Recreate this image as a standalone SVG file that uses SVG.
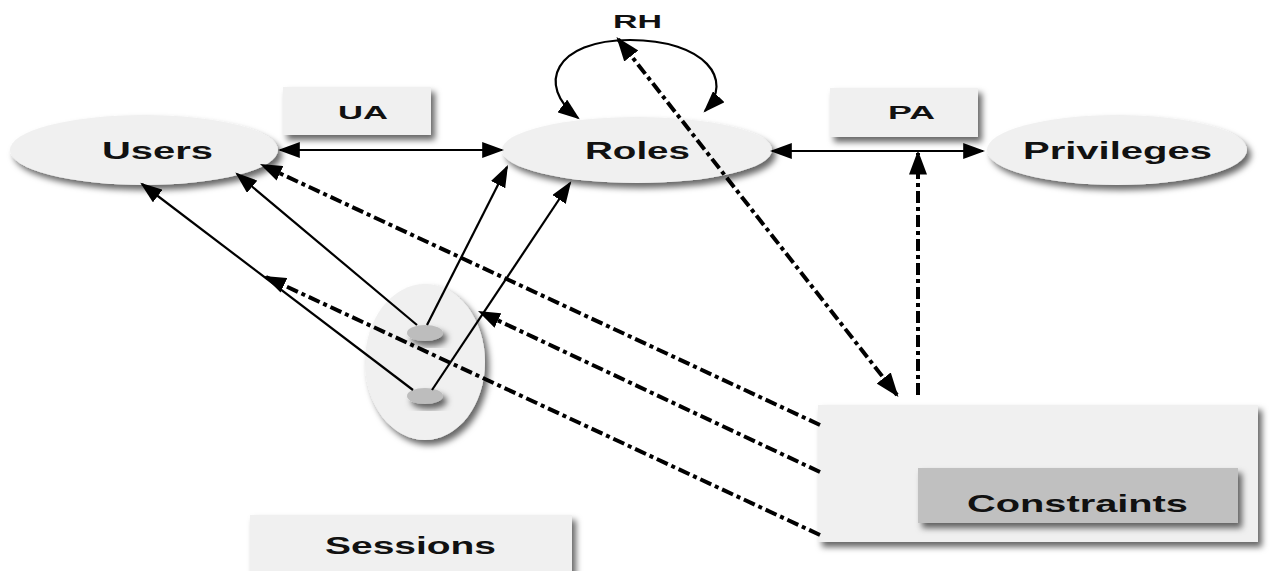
<svg xmlns="http://www.w3.org/2000/svg" width="1278" height="571" viewBox="0 0 1278 571">
<style>
  .lbl { font-family: "Liberation Sans", Arial, sans-serif; font-weight: bold; fill: #111; text-anchor: middle; }
  .shape { fill: #f0f0f0; filter: url(#sh); }
  .solid { stroke: #000; stroke-width: 2.2; fill: none; }
  .dd { stroke: #000; stroke-width: 4; fill: none; stroke-dasharray: 12 4 4 4; }
</style>
<defs>
  <filter id="sh" x="-20%" y="-20%" width="150%" height="160%">
    <feDropShadow dx="4" dy="5" stdDeviation="3" flood-color="#000" flood-opacity="0.6"/>
  </filter>
  <marker id="ah" viewBox="0 0 10 10" markerUnits="userSpaceOnUse" markerWidth="22" markerHeight="16" refX="9" refY="5" orient="auto-start-reverse" preserveAspectRatio="none">
    <path d="M0,0 L10,5 L0,10 z" fill="#000"/>
  </marker>
  <marker id="ahb" viewBox="0 0 10 10" markerUnits="userSpaceOnUse" markerWidth="24" markerHeight="18" refX="9" refY="5" orient="auto-start-reverse" preserveAspectRatio="none">
    <path d="M0,0 L10,5 L0,10 z" fill="#000"/>
  </marker>
</defs>
<rect width="1278" height="571" fill="#fff"/>

<g id="sessions-box">
  <rect class="shape" x="250" y="515" width="322" height="70"/>
  <text class="lbl" x="410.5" y="554" font-size="23" textLength="171" lengthAdjust="spacingAndGlyphs">Sessions</text>
</g>

<g id="constraints">
  <rect class="shape" x="818" y="405" width="440" height="137"/>
  <rect x="918" y="468" width="320" height="55" fill="#c0c0c0" filter="url(#sh)"/>
  <text class="lbl" x="1077.5" y="512" font-size="24" textLength="221" lengthAdjust="spacingAndGlyphs">Constraints</text>
</g>

<g id="ua">
  <rect class="shape" x="283" y="87" width="148" height="48"/>
  <text class="lbl" x="363" y="119" font-size="19" textLength="50" lengthAdjust="spacingAndGlyphs">UA</text>
</g>

<g id="pa">
  <rect class="shape" x="830" y="88" width="148" height="49"/>
  <text class="lbl" x="911.5" y="119" font-size="19" textLength="47" lengthAdjust="spacingAndGlyphs">PA</text>
</g>

<g id="users">
  <ellipse class="shape" cx="144" cy="150" rx="134" ry="35"/>
  <text class="lbl" x="157.5" y="159" font-size="23" textLength="111" lengthAdjust="spacingAndGlyphs">Users</text>
</g>

<g id="roles">
  <ellipse class="shape" cx="637" cy="150" rx="135" ry="33"/>
  <text class="lbl" x="637.5" y="159" font-size="23" textLength="105" lengthAdjust="spacingAndGlyphs">Roles</text>
</g>

<g id="privileges">
  <ellipse class="shape" cx="1117" cy="150" rx="130" ry="35"/>
  <text class="lbl" x="1117.5" y="159" font-size="24" textLength="189" lengthAdjust="spacingAndGlyphs">Privileges</text>
</g>

<g id="sessions">
  <ellipse class="shape" cx="425" cy="362" rx="60" ry="78"/>
  <ellipse cx="425" cy="333" rx="18" ry="8" fill="#bdbdbd" filter="url(#sh)"/>
  <ellipse cx="425" cy="396" rx="18" ry="8" fill="#bdbdbd" filter="url(#sh)"/>
</g>

<g id="rh">
  <text class="lbl" x="637.5" y="28" font-size="19" textLength="49" lengthAdjust="spacingAndGlyphs">RH</text>
</g>

<g id="connectors">
  <line class="solid" x1="280" y1="150" x2="502" y2="150" marker-start="url(#ah)" marker-end="url(#ah)"/>
  <line class="solid" x1="772" y1="151" x2="983" y2="151" marker-start="url(#ah)" marker-end="url(#ah)"/>
  <path class="solid" d="M 578,118 C 535,85 555,40 630,40 C 705,40 735,80 705,111" marker-start="url(#ah)" marker-end="url(#ah)"/>
  <line class="solid" x1="417" y1="325" x2="237" y2="174" marker-end="url(#ah)"/>
  <line class="solid" x1="413" y1="390" x2="142" y2="184" marker-end="url(#ah)"/>
  <line class="solid" x1="427" y1="325" x2="507" y2="167" marker-end="url(#ah)"/>
  <line class="solid" x1="432" y1="390" x2="570" y2="183" marker-end="url(#ah)"/>
  <line class="dd" x1="820" y1="425" x2="262" y2="165" marker-end="url(#ah)"/>
  <line class="dd" x1="820" y1="472" x2="480" y2="312" marker-end="url(#ah)"/>
  <line class="dd" x1="820" y1="535" x2="266" y2="277" marker-end="url(#ah)"/>
  <line class="dd" stroke-width="5" x1="897" y1="395" x2="618" y2="39" marker-start="url(#ahb)" marker-end="url(#ahb)"/>
  <line class="dd" stroke-width="6" stroke-dasharray="10 4 4 4" x1="918" y1="395" x2="918" y2="153" marker-end="url(#ahb)"/>
</g>
</svg>
